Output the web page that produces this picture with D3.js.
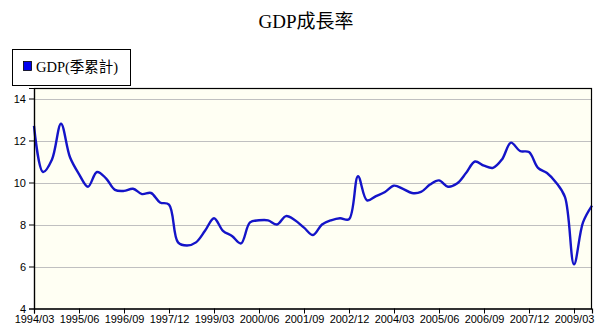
<!DOCTYPE html>
<html>
<head>
<meta charset="utf-8">
<script src="https://cdn.jsdelivr.net/npm/d3@7"></script>
<style>
html,body{margin:0;padding:0;background:#fff;}
svg{display:block;}
</style>
</head>
<body>
<svg id="chart" width="611" height="332"></svg>
<script>
const title = "GDP成長率";
const seriesName = "GDP(季累計)";
const startYear = 1994;
const quarterMonths = ["03", "06", "09", "12"];
const gdpValues = [
  12.7, 10.5, 11.1, 12.8, 11.2, 10.4, 9.8, 10.5, 10.2, 9.65,
  9.6, 9.7, 9.45, 9.5, 9.05, 8.95, 7.15, 7.0, 7.15, 7.7,
  8.3, 7.7, 7.45, 7.1, 8.1, 8.2, 8.2, 8.0, 8.4, 8.2,
  7.85, 7.5, 8.0, 8.2, 8.3, 8.25, 10.3, 9.15, 9.35, 9.55,
  9.85, 9.7, 9.5, 9.55, 9.9, 10.1, 9.8, 9.95, 10.45, 11.0,
  10.8, 10.7, 11.1, 11.9, 11.5, 11.45, 10.7, 10.45, 10.0, 9.3,
  6.1, 8.1, 8.9
];
const categories = gdpValues.map((v, i) =>
  (startYear + Math.floor(i / 4)) + "/" + quarterMonths[i % 4]);
const xTickLabels = ["1994/03","1995/06","1996/09","1997/12","1999/03","2000/06","2001/09","2002/12","2004/03","2005/06","2006/09","2007/12","2009/03"];
const yTicks = [4, 6, 8, 10, 12, 14];

const svg = d3.select("#chart");
const L = 34, R = 592, T = 88, B = 308.5;

const x = d3.scalePoint().domain(categories).range([L, R]);
// y: 4 at B, 21 px per unit
const y = d3.scaleLinear().domain([4, 4 + (B - T) / 21]).range([B, T]);

// title
svg.append("text")
  .attr("x", 306).attr("y", 28)
  .attr("text-anchor", "middle")
  .attr("font-family", "'Liberation Serif','Noto Sans CJK TC',serif")
  .attr("font-size", 19)
  .attr("fill", "#000")
  .text(title);

// legend
const lg = svg.append("g");
lg.append("rect").attr("x", 12.5).attr("y", 49.5).attr("width", 118).attr("height", 36)
  .attr("fill", "#fff").attr("stroke", "#000");
lg.append("rect").attr("x", 23.5).attr("y", 61.5).attr("width", 8).attr("height", 9)
  .attr("fill", "#0000ee").attr("stroke", "#000").attr("stroke-width", 0.8);
lg.append("text").attr("x", 36).attr("y", 72)
  .attr("font-family", "'Liberation Serif','Noto Sans CJK TC',serif")
  .attr("font-size", 14.5).attr("fill", "#000")
  .text(seriesName);

// plot background
svg.append("rect").attr("x", L).attr("y", T).attr("width", R - L).attr("height", B - T)
  .attr("fill", "#fffff3");

// gridlines
svg.append("g").selectAll("line").data(yTicks.filter(d => d > 4)).join("line")
  .attr("x1", L).attr("x2", R)
  .attr("y1", d => Math.round(y(d)) + 0.5).attr("y2", d => Math.round(y(d)) + 0.5)
  .attr("stroke", "#c0c0c0").attr("stroke-width", 1);

// line
const line = d3.line()
  .x((d, i) => x(categories[i]))
  .y(d => y(d))
  .curve(d3.curveCatmullRom.alpha(0.5));
svg.append("path").datum(gdpValues)
  .attr("d", line)
  .attr("fill", "none")
  .attr("stroke", "#1414c8")
  .attr("stroke-width", 2.4)
  .attr("stroke-linejoin", "round");

// frame
svg.append("rect").attr("x", L + 0.5).attr("y", T + 0.5).attr("width", R - L - 1).attr("height", B - T)
  .attr("fill", "none").attr("stroke", "#000").attr("stroke-width", 1.2);

// axes
const xAxis = d3.axisBottom(x).tickValues(xTickLabels).tickSize(5).tickPadding(2);
const gx = svg.append("g").attr("transform", `translate(0,${B})`).call(xAxis);
gx.select(".domain").attr("stroke", "#000").attr("stroke-width", 1.2);
gx.selectAll("text").attr("font-family", "'Liberation Sans',Arial,sans-serif").attr("font-size", 11).attr("fill", "#000");

const yAxis = d3.axisLeft(y).tickValues(yTicks).tickFormat(d3.format("d")).tickSize(5).tickPadding(3);
const gy = svg.append("g").attr("transform", `translate(${L},0)`).call(yAxis);
gy.select(".domain").attr("stroke", "#000").attr("stroke-width", 1.2);
gy.selectAll("text").attr("font-family", "'Liberation Sans',Arial,sans-serif").attr("font-size", 11).attr("fill", "#000");
</script>
</body>
</html>
